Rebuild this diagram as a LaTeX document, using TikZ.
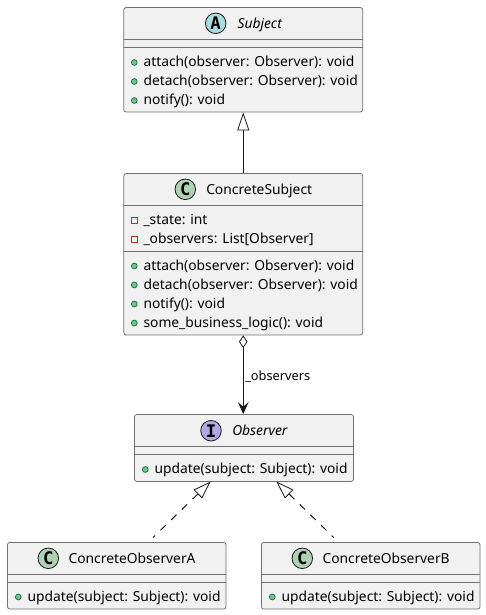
\documentclass[tikz,border=0pt]{standalone}
\usepackage{fontspec}
\setmainfont{Noto Sans}
\newfontfamily\iconfont{DejaVu Sans Mono}
\usetikzlibrary{arrows.meta}
\definecolor{boxfill}{HTML}{F1F1F1}
\definecolor{ink}{HTML}{181818}
\definecolor{rule}{HTML}{707070}
\definecolor{iconA}{HTML}{A9DCDF}
\definecolor{iconC}{HTML}{ADD1B2}
\definecolor{iconI}{HTML}{B4A7E5}
\definecolor{pubfill}{HTML}{84BE84}
\definecolor{pubdraw}{HTML}{038048}
\definecolor{privdraw}{HTML}{C82930}
\tikzset{
  umlbox/.style={draw=rule,line width=0.6pt,fill=boxfill,rounded corners=1.9pt,inner sep=0pt,rectangle},
  divider/.style={draw=rule,line width=0.6pt},
  txtlabel/.style={anchor=base west,inner sep=0pt,font=\fontsize{10.36pt}{12pt}\selectfont,text=black},
  ilabel/.style={txtlabel,font=\fontsize{10.36pt}{12pt}\selectfont\itshape},
  smalllabel/.style={txtlabel,font=\fontsize{9.6pt}{11pt}\selectfont},
  icon/.style={circle,draw=ink,line width=0.6pt,minimum size=15.4pt,inner sep=0pt,font=\iconfont\bfseries\fontsize{13pt}{13pt}\selectfont,text=black},
  pubdot/.style={circle,draw=pubdraw,line width=0.6pt,fill=pubfill,minimum size=4.3pt,inner sep=0pt},
  privdot/.style={rectangle,draw=privdraw,line width=0.6pt,fill=boxfill,minimum size=4.4pt,inner sep=0pt},
  conn/.style={draw=ink,line width=0.75pt},
  inherit/.style={conn,{Triangle[open,length=13.5pt,width=9pt,fill=white,line width=0.6pt]}-},
  realize/.style={inherit,dash pattern=on 5.6pt off 5.6pt},
  aggr/.style={conn,{Diamond[open,length=9.5pt,width=6.4pt,fill=white,line width=0.6pt]}-{Stealth[length=9pt,width=8pt,inset=3.5pt]}},
}
\newcommand{\pubitem}[4]{\node[pubdot] (#1d) at (#2-9,#3-4) {}; \node[txtlabel] (#1) at (#2,#3) {#4};}
\newcommand{\privitem}[4]{\node[privdot] (#1d) at (#2-9,#3-4) {}; \node[txtlabel] (#1) at (#2,#3) {#4};}
\begin{document}
\begin{tikzpicture}[x=0.75pt,y=-0.75pt]
\useasboundingbox (0,0) rectangle (486,615);
% boxes
\node[umlbox,minimum width=179.25pt,minimum height=78.4pt] (subj) at (243.25,59.75) {};
\node[umlbox,minimum width=179.25pt,minimum height=121.1pt] (csubj) at (243.25,254.25) {};
\node[umlbox,minimum width=164.25pt,minimum height=50.25pt] (obs) at (244,448) {};
\node[umlbox,minimum width=164pt,minimum height=50pt] (oba) at (116.75,575.75) {};
\node[umlbox,minimum width=164pt,minimum height=50pt] (obb) at (370.75,575.75) {};
% dividers
\draw[divider] (123.5,39.5) -- (363,39.5) (123.5,47.5) -- (363,47.5);
\draw[divider] (123.5,205.5) -- (363,205.5) (123.5,251) -- (363,251);
\draw[divider] (134.5,446.5) -- (353.5,446.5) (134.5,454.5) -- (353.5,454.5);
\draw[divider] (7.5,574.5) -- (226,574.5) (7.5,582.5) -- (226,582.5);
\draw[divider] (261.5,574.5) -- (480,574.5) (261.5,582.5) -- (480,582.5);
% headers
\node[icon,fill=iconA] (subjicon) at (215.7,23.3) {A};
\node[ilabel] (subjtitle) at (237.3,28) {Subject};
\node[icon,fill=iconC] (csubjicon) at (185.3,189.3) {C};
\node[txtlabel] (csubjtitle) at (206,194) {ConcreteSubject};
\node[icon,fill=iconI] (obsicon) at (211,430.7) {I};
\node[ilabel] (obstitle) at (232,435.5) {Observer};
\node[icon,fill=iconC] (obaicon) at (48.3,558.3) {C};
\node[txtlabel] (obatitle) at (68.3,563) {ConcreteObserverA};
\node[icon,fill=iconC] (obbicon) at (302.3,558.3) {C};
\node[txtlabel] (obbtitle) at (322.3,563) {ConcreteObserverB};
% members
\pubitem{sa}{143.3}{66.5}{attach(observer: Observer): void}
\pubitem{sb}{143.3}{85.5}{detach(observer: Observer): void}
\pubitem{sc}{143.3}{104.5}{notify(): void}
\privitem{ca}{143.3}{224}{\_state: int}
\privitem{cb}{143.3}{243}{\_observers: List[Observer]}
\pubitem{cc}{143.3}{270}{attach(observer: Observer): void}
\pubitem{cd}{143.3}{289}{detach(observer: Observer): void}
\pubitem{ce}{143.3}{308}{notify(): void}
\pubitem{cf}{143.3}{327}{some\_business\_logic(): void}
\pubitem{oa}{154.3}{473.5}{update(subject: Subject): void}
\pubitem{aa}{27.3}{601}{update(subject: Subject): void}
\pubitem{ba}{281.3}{601}{update(subject: Subject): void}
% connectors
\coordinate (atip) at (210.7,481.5);
\coordinate (btip) at (276.3,481.5);
\coordinate (aend) at (153,537.5);
\coordinate (bend) at (333.7,537.5);
\draw[inherit] (subj.south) -- (csubj.north);
\draw[aggr] (csubj.south) -- (csubj.south |- obs.north);
\node[smalllabel] (obslabel) at (245,380) {\_observers};
\draw[realize] (atip) -- (aend);
\draw[realize] (btip) -- (bend);
\end{tikzpicture}
\end{document}
